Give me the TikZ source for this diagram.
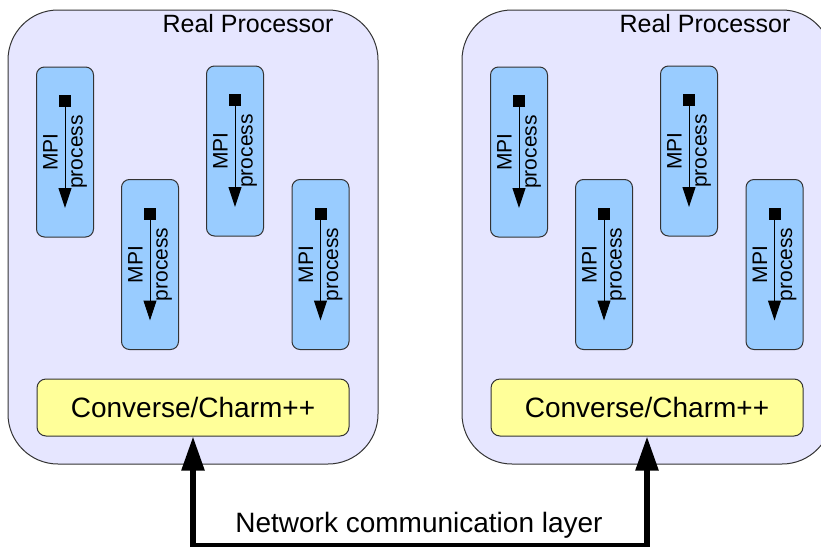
\documentclass[tikz,border=0pt]{standalone}
\usepackage{fontspec}
\setmainfont{Liberation Sans}
\usetikzlibrary{arrows.meta}
\definecolor{procfill}{RGB}{230,230,255}
\definecolor{mpifill}{RGB}{153,204,255}
\definecolor{convfill}{RGB}{255,255,153}
\definecolor{edge}{RGB}{51,51,51}
\begin{document}
\begin{tikzpicture}[x=1pt,y=-1pt,
  procbox/.style={draw=edge, line width=1pt, fill=procfill, rounded corners=50pt,
    minimum width=370pt, minimum height=454pt, inner sep=0},
  mpibox/.style={draw=edge, line width=1pt, fill=mpifill, rounded corners=8pt,
    minimum width=57pt, minimum height=170pt, inner sep=0},
  mpilabel/.style={rotate=90, align=center, inner sep=0, font=\fontsize{21}{25}\selectfont},
  marker/.style={fill=black, minimum size=12pt, inner sep=0},
  flow/.style={line width=1pt, -{Triangle[length=20pt,width=13pt]}},
  convbox/.style={draw=edge, line width=1pt, fill=convfill, rounded corners=9pt,
    minimum width=312pt, minimum height=57pt, inner sep=0, text height=20pt, text depth=0pt,
    font=\fontsize{28}{34}\selectfont},
  title/.style={anchor=base, inner sep=0, font=\fontsize{25}{30}\selectfont},
  net/.style={line width=5.5pt, miter limit=10,
    {Triangle[length=34pt,width=22pt]}-{Triangle[length=34pt,width=22pt]}},
]
\useasboundingbox (0,0) rectangle (821,546);
\clip (0,0) rectangle (821,546);

% two processors, each with four MPI processes on top of Converse/Charm++
\foreach \side/\dx/\tx in {L/0/248, R/454/705}{
  \node[procbox] (proc\side) at (193+\dx,237) {};
  \node[title] (title\side) at (\tx,32) {Real Processor};
  \foreach \i/\x/\y in {1/65/152, 2/150/264.5, 3/235/151, 4/320.5/264.5}{
    \node[mpibox] (mpi\side\i) at (\x+\dx,\y) {};
    \node[mpilabel] (lab\side\i) at (mpi\side\i.center) {MPI\\process};
    \node[marker] (mark\side\i) at ([yshift=51pt]mpi\side\i.center) {};
    \coordinate (tip\side\i) at ([yshift=-56pt]mpi\side\i.center);
    \draw[flow] (mark\side\i.south) -- (tip\side\i);
  }
  \node[convbox] (conv\side) at (193+\dx,407.5) {Converse/Charm++};
}

% network layer joining the two runtimes
\coordinate (netL) at (193,545.5);
\draw[net] (convL.south) -- (netL) -| (convR.south);
\node[anchor=base, inner sep=0, font=\fontsize{28}{34}\selectfont] (netlabel) at (419,532)
  {Network communication layer};
\end{tikzpicture}
\end{document}
